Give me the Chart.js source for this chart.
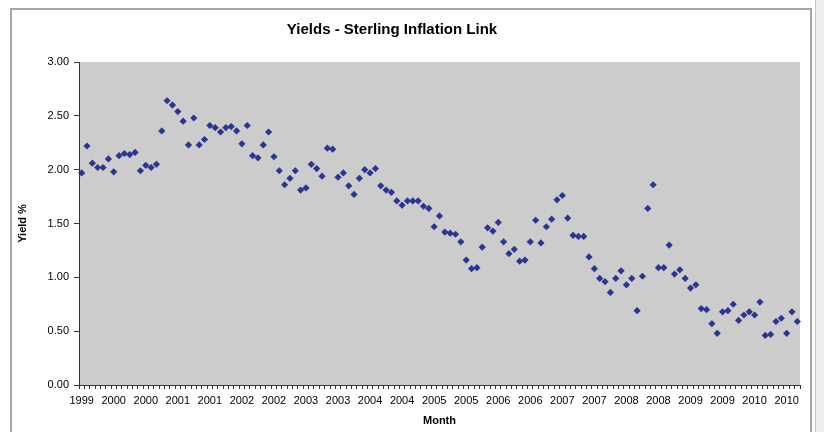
<!DOCTYPE html>
<html>
<head>
<meta charset="utf-8">
<script src="https://cdn.jsdelivr.net/npm/chart.js@4.4.1/dist/chart.umd.min.js"></script>
<style>
html,body{margin:0;padding:0;background:#fff;width:824px;height:432px;overflow:hidden;position:relative}
#frame{position:absolute;left:10px;top:8px;width:802px;height:500px;border:2px solid #a6a6a6;box-sizing:border-box}
#strip{position:absolute;left:815px;top:0;width:9px;height:432px;background:#efefef;border-left:1px solid #c4c4c4;box-sizing:border-box}
#wrap{position:absolute;left:0;top:0;width:824px;height:432px}
</style>
</head>
<body>
<div id="frame"></div>
<div id="strip"></div>
<div id="wrap"><canvas id="c" width="824" height="432"></canvas></div>
<script>
const chartTitle = 'Yields - Sterling Inflation Link';
const yAxisTitle = 'Yield %';
const xAxisTitle = 'Month';
const tickLabels = ['1999','2000','2000','2001','2001','2002','2002','2003','2003','2004','2004','2005','2005','2006','2006','2007','2007','2008','2008','2009','2009','2010','2010'];
const yields = [
  1.97,2.22,2.06,2.02,2.02,2.10,1.98,2.13,2.15,2.14,
  2.16,1.99,2.04,2.02,2.05,2.36,2.64,2.60,2.54,2.45,
  2.23,2.48,2.23,2.28,2.41,2.39,2.35,2.39,2.40,2.36,
  2.24,2.41,2.13,2.11,2.23,2.35,2.12,1.99,1.86,1.92,
  1.99,1.81,1.83,2.05,2.01,1.94,2.20,2.19,1.93,1.97,
  1.85,1.77,1.92,2.00,1.97,2.01,1.85,1.81,1.79,1.71,
  1.67,1.71,1.71,1.71,1.66,1.64,1.47,1.57,1.42,1.41,
  1.40,1.33,1.16,1.08,1.09,1.28,1.46,1.43,1.51,1.33,
  1.22,1.26,1.15,1.16,1.33,1.53,1.32,1.47,1.54,1.72,
  1.76,1.55,1.39,1.38,1.38,1.19,1.08,0.99,0.96,0.86,
  0.99,1.06,0.93,0.99,0.69,1.01,1.64,1.86,1.09,1.09,
  1.30,1.03,1.07,0.99,0.90,0.93,0.71,0.70,0.57,0.48,
  0.68,0.69,0.75,0.60,0.65,0.68,0.65,0.77,0.46,0.47,
  0.59,0.62,0.48,0.68,0.59
];
// monthly categories, one per observation
const categories = yields.map((_, i) => {
  const m = 11 + i; // starting Dec 1999
  return (1999 + Math.floor(m / 12)) + '-' + String(m % 12 + 1).padStart(2, '0');
});

const FONT = '"Liberation Sans", Arial, sans-serif';

const decor = {
  id: 'decor',
  beforeDraw(chart) {
    const {ctx, chartArea: a} = chart;
    ctx.save();
    ctx.fillStyle = '#cccccc';
    ctx.fillRect(a.left, a.top, a.right - a.left, a.bottom - a.top);
    ctx.restore();
  },
  afterDraw(chart) {
    const ctx = chart.ctx;
    ctx.save();
    ctx.font = 'bold 15px ' + FONT;
    ctx.fillStyle = '#000';
    ctx.textAlign = 'center';
    ctx.textBaseline = 'middle';
    ctx.fillText(chartTitle, 392, 30);
    ctx.restore();
  }
};

new Chart(document.getElementById('c'), {
  type: 'line',
  data: {
    labels: categories,
    datasets: [{
      data: yields,
      showLine: false,
      pointStyle: 'rectRot',
      pointRadius: 3.6,
      pointHoverRadius: 3.6,
      backgroundColor: '#2b3592',
      borderColor: '#2b3592',
      borderWidth: 0
    }]
  },
  options: {
    responsive: false,
    animation: false,
    devicePixelRatio: 1,
    layout: {padding: {left: 12, right: 24, top: 62, bottom: 0}},
    plugins: {legend: {display: false}, title: {display: false}, tooltip: {enabled: false}},
    scales: {
      x: {
        type: 'category',
        offset: true,
        grid: {offset: true, drawOnChartArea: false, tickLength: 4, color: '#333', tickWidth: 1},
        border: {color: '#333', width: 1},
        ticks: {
          autoSkip: false, maxRotation: 0, minRotation: 0, padding: 5,
          color: '#000', font: {family: FONT, size: 11},
          callback: (v, i) => (i % 6 === 0 ? tickLabels[i / 6] : '')
        },
        title: {display: true, text: xAxisTitle, color: '#000', font: {family: FONT, size: 11, weight: 'bold'}, padding: {top: 2, bottom: 4}},
        afterFit: s => { s.height = 47; }
      },
      y: {
        min: 0, max: 3,
        grid: {drawOnChartArea: false, tickLength: 5, color: '#333'},
        border: {color: '#333', width: 1},
        ticks: {
          stepSize: 0.5, padding: 5, color: '#000', font: {family: FONT, size: 11},
          callback: v => v.toFixed(2)
        },
        title: {display: true, text: yAxisTitle, color: '#000', font: {family: FONT, size: 11, weight: 'bold'}, padding: {top: 4, bottom: 0}},
        afterFit: s => { s.width = 67; }
      }
    }
  },
  plugins: [decor]
});
</script>
</body>
</html>
